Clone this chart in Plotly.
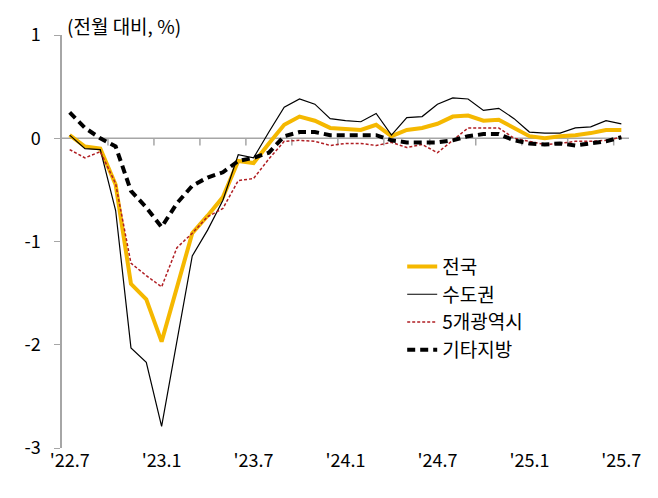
import plotly.graph_objects as go

months = list(range(37))
tick_pos = [0, 6, 12, 18, 24, 30, 36]
tick_text = ["'22.7", "'23.1", "'23.7", "'24.1", "'24.7", "'25.1", "'25.7"]

nation = [0.03, -0.08, -0.1, -0.45, -1.41, -1.56, -1.97, -1.46, -0.92, -0.75, -0.57, -0.22, -0.24,
          -0.05, 0.13, 0.21, 0.17, 0.1, 0.09, 0.08, 0.13, 0.02, 0.08, 0.1, 0.14, 0.21, 0.22,
          0.17, 0.18, 0.1, 0.02, 0.0, 0.02, 0.03, 0.05, 0.08, 0.08]
capital = [0.03, -0.1, -0.11, -0.7, -2.03, -2.17, -2.79, -1.97, -1.14, -0.89, -0.6, -0.16, -0.19,
           0.06, 0.3, 0.38, 0.33, 0.19, 0.17, 0.16, 0.24, 0.03, 0.2, 0.21, 0.33, 0.39, 0.38,
           0.27, 0.29, 0.19, 0.06, 0.05, 0.05, 0.1, 0.11, 0.17, 0.14]
metro5 = [-0.11, -0.19, -0.13, -0.44, -1.21, -1.33, -1.44, -1.06, -0.92, -0.76, -0.68, -0.41, -0.39,
          -0.2, -0.03, -0.02, -0.03, -0.07, -0.05, -0.05, -0.07, -0.04, -0.09, -0.06, -0.14, -0.02, 0.1,
          0.1, 0.1, 0.0, -0.03, -0.06, -0.05, -0.03, -0.03, -0.02, 0.01]
others = [0.25, 0.1, 0.0, -0.08, -0.51, -0.67, -0.86, -0.63, -0.46, -0.38, -0.33, -0.22, -0.19,
          -0.14, 0.02, 0.06, 0.06, 0.03, 0.03, 0.03, 0.03, -0.02, -0.04, -0.04, -0.04, -0.02, 0.02,
          0.04, 0.04, -0.02, -0.05, -0.06, -0.05, -0.07, -0.05, -0.03, 0.01]

fig = go.Figure()
fig.add_trace(go.Scatter(x=months, y=nation, name="전국", mode="lines",
                         line=dict(color="#F5B800", width=4)))
fig.add_trace(go.Scatter(x=months, y=capital, name="수도권", mode="lines",
                         line=dict(color="black", width=1.2)))
fig.add_trace(go.Scatter(x=months, y=metro5, name="5개광역시", mode="lines",
                         line=dict(color="#B01E23", width=1.5, dash="3px,2px")))
fig.add_trace(go.Scatter(x=months, y=others, name="기타지방", mode="lines",
                         line=dict(color="black", width=4, dash="8px,5px")))

# zero line with quarterly tick marks between categories
fig.add_shape(type="line", x0=-0.5, x1=36.5, y0=0, y1=0, layer="below",
              line=dict(color="#a6a6a6", width=1.5))
for b in range(3, 37, 3):
    fig.add_shape(type="line", x0=b - 0.5, x1=b - 0.5, y0=0, y1=-0.07, layer="below",
                  line=dict(color="#a6a6a6", width=1.5))

fig.add_annotation(text="(전월 대비, %)", xref="paper", yref="paper", x=0.005, y=1,
                   xanchor="left", yanchor="middle", yshift=10, showarrow=False,
                   font=dict(size=19, color="black"))

fig.update_layout(
    width=658, height=498,
    margin=dict(l=54, r=37, t=22, b=58),
    paper_bgcolor="white", plot_bgcolor="white",
    font=dict(family="Noto Sans CJK KR", size=18, color="black"),
    showlegend=True,
    legend=dict(x=0.6, y=0.485, xanchor="left", yanchor="top", bgcolor="rgba(0,0,0,0)",
                font=dict(size=19), tracegroupgap=0),
    xaxis=dict(range=[-0.5, 36.5], tickvals=tick_pos, ticktext=tick_text, showgrid=False,
               zeroline=False, showline=False, ticks=""),
    yaxis=dict(range=[-3, 1], tickvals=[-3, -2, -1, 0, 1], ticktext=["-3", "-2", "-1", "0", "1"],
               showgrid=False, zeroline=False, showline=True, linecolor="#a6a6a6", linewidth=1.5,
               ticks="outside", ticklen=6, tickcolor="#a6a6a6", ticklabelstandoff=10),
)

fig.write_html("out.html")
